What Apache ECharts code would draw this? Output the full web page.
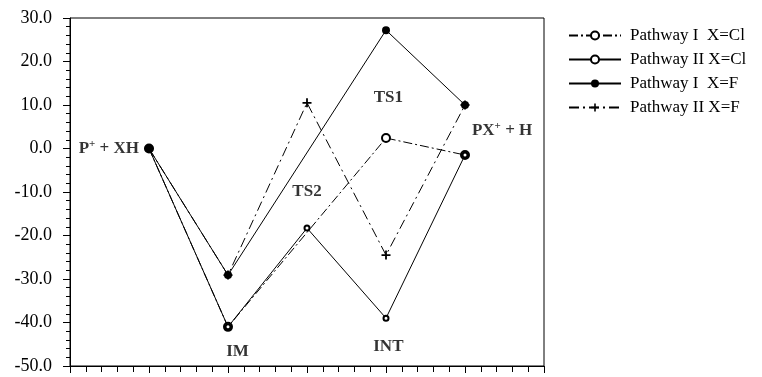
<!DOCTYPE html>
<html><head><meta charset="utf-8">
<script src="https://cdn.jsdelivr.net/npm/echarts@6/dist/echarts.min.js"></script>
<style>html,body{margin:0;padding:0;background:#fff}#c{width:762px;height:377px}</style>
</head><body><div id="c"></div>
<script>
// Reaction stages along the x axis (1..5)
const stagePositions = [1, 2, 3, 4, 5];
const seriesNames = ['Pathway I  X=Cl', 'Pathway II X=Cl', 'Pathway I  X=F', 'Pathway II X=F'];
const pathwayIClValues  = [0, -41.0, null, 2.4, -1.5];
const pathwayIIClValues = [0, -41.0, -18.3, -39.0, -1.5];
const pathwayIFValues   = [0, -29.1, null, 27.2, 10.0];
const pathwayIIFValues  = [0, -29.1, 10.5, -24.5, 10.0];
// Stage annotations
const annotationTexts = ['{b|P}{s|+}{b| + XH}', '{b|IM}', '{b|TS2}', '{b|TS1}', '{b|INT}', '{b|PX}{s|+}{b| + H}'];
const annotationX = [1, 2.12, 3.0, 4.03, 4.03, 5.47];
const annotationY = [0, -46.8, -10.0, 11.6, -45.6, 4.0];

const FONT = '"Liberation Serif", "DejaVu Serif", serif';
const pair = arr => stagePositions.map((x, i) => [x, arr[i]]);
const plusPath = 'path://M4,0h2v4h4v2h-4v4h-2v-4h-4v-2h4z';

const chart = echarts.init(document.getElementById('c'), null, {renderer: 'canvas'});
const baseLine = (name, values, lineType, symbol, size, border) => ({
  name, type: 'line', data: pair(values), connectNulls: true,
  symbol, symbolSize: size, showSymbol: true, showAllSymbol: true,
  lineStyle: {color: '#000', width: 1, type: lineType},
  itemStyle: {color: '#000', borderColor: '#000', borderWidth: border},
  emphasis: {disabled: true}, animation: false
});

chart.setOption({
  animation: false,
  backgroundColor: '#fff',
  grid: {left: 70, right: 218, top: 18, bottom: 11, show: true, borderColor: '#000', borderWidth: 1, backgroundColor: 'transparent'},
  legend: {
    data: seriesNames, orient: 'vertical', left: 563, top: 22, itemWidth: 52, itemHeight: 10, itemGap: 7,
    textStyle: {fontFamily: FONT, fontSize: 17, color: '#000', padding: [0, 0, 0, 4]},
    selectedMode: false
  },
  xAxis: {
    type: 'value', min: 0, max: 6, interval: 1,
    axisLine: {show: true, onZero: false, lineStyle: {color: '#000', width: 1}},
    axisTick: {show: true, inside: false, length: 7, lineStyle: {color: '#000'}},
    minorTick: {show: true, splitNumber: 5, length: 6, lineStyle: {color: '#000'}},
    axisLabel: {show: false}, splitLine: {show: false}
  },
  yAxis: {
    type: 'value', min: -50, max: 30, interval: 10,
    axisLine: {show: true, lineStyle: {color: '#000', width: 1}},
    axisTick: {show: true, inside: false, length: 7, lineStyle: {color: '#000'}},
    minorTick: {show: true, splitNumber: 5, length: 4, lineStyle: {color: '#000'}},
    axisLabel: {margin: 18, formatter: v => v.toFixed(1), fontFamily: FONT, fontSize: 18, color: '#000'},
    splitLine: {show: false}
  },
  series: [
    baseLine(seriesNames[0], pathwayIClValues, [9, 3, 2, 3], 'emptyCircle', 8, 1.5),
    baseLine(seriesNames[1], pathwayIIClValues, 'solid', 'emptyCircle', 5, 1.5),
    baseLine(seriesNames[2], pathwayIFValues, 'solid', 'circle', 8, 0),
    baseLine(seriesNames[3], pathwayIIFValues, [10, 4, 2, 4], plusPath, 9, 0),
    {
      name: 'annotations', type: 'scatter', symbolSize: 0, silent: true, z: 5,
      data: annotationX.map((x, i) => ({
        value: [x, annotationY[i]],
        label: i === 0 ? {position: 'left', distance: 10} : {position: 'inside'}
      })),
      label: {
        show: true, formatter: p => annotationTexts[p.dataIndex], color: '#000',
        rich: {
          b: {fontFamily: FONT, fontSize: 17, fontWeight: 'bold', color: '#000'},
          s: {fontFamily: FONT, fontSize: 11, fontWeight: 'bold', color: '#000', padding: [0, 0, 9, 0]}
        }
      }
    }
  ]
});
</script></body></html>
